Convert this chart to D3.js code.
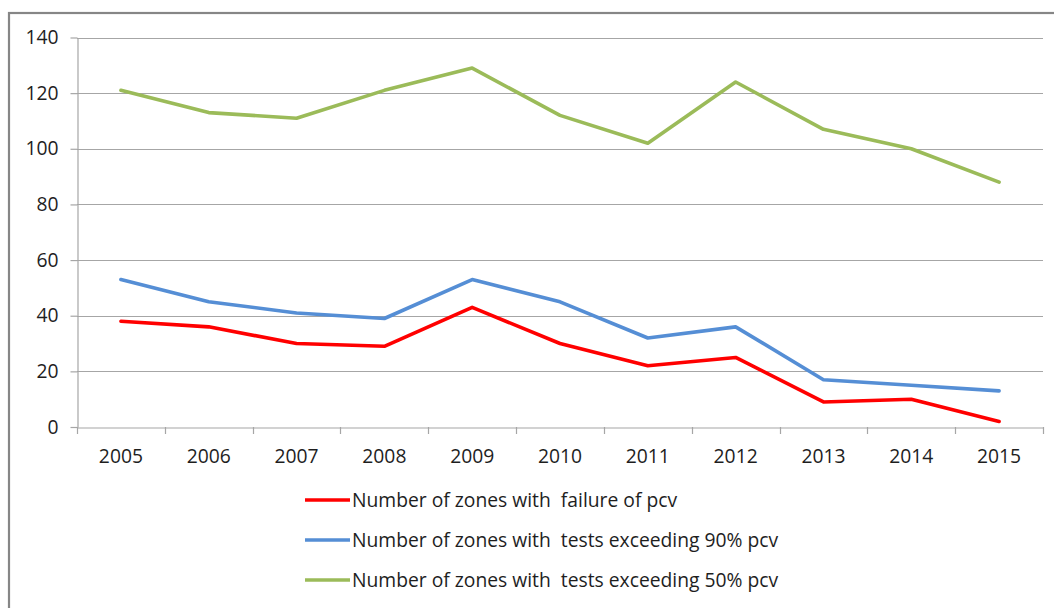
<!DOCTYPE html>
<html>
<head>
<meta charset="utf-8">
<script src="https://cdn.jsdelivr.net/npm/d3@7"></script>
<style>
  html, body { margin: 0; padding: 0; background: #ffffff; }
  svg { display: block; }
  text { font-family: "Open Sans", "Liberation Sans", sans-serif; fill: #1e1e1e; }
</style>
</head>
<body>
<svg id="chart" width="1054" height="608"></svg>
<script>
// Years on the category axis
const years = ["2005", "2006", "2007", "2008", "2009", "2010", "2011", "2012", "2013", "2014", "2015"];

// Series values, one per year
const failurePcv = [38, 36, 30, 29, 43, 30, 22, 25, 9, 10, 2];
const exceeding90 = [53, 45, 41, 39, 53, 45, 32, 36, 17, 15, 13];
const exceeding50 = [121, 113, 111, 121, 129, 112, 102, 124, 107, 100, 88];

// Series names shown in the legend
const seriesNames = [
  "Number of zones with  failure of pcv",
  "Number of zones with  tests exceeding 90% pcv",
  "Number of zones with  tests exceeding 50% pcv"
];

// Y axis tick values
const yTicks = [0, 20, 40, 60, 80, 100, 120, 140];

const series = [
  { name: seriesNames[0], values: failurePcv, color: "#ff0000" },
  { name: seriesNames[1], values: exceeding90, color: "#558ed5" },
  { name: seriesNames[2], values: exceeding50, color: "#9bbb59" }
];

const svg = d3.select("#chart");
const margin = { left: 77, right: 1043, top: 37.5, bottom: 427 };
const fontSize = 19.3;

// Outer chart frame
svg.append("rect")
  .attr("x", 9).attr("y", 13)
  .attr("width", 1100).attr("height", 700)
  .attr("fill", "none")
  .attr("stroke", "#868686")
  .attr("stroke-width", 2.2);

const x = d3.scaleBand().domain(years).range([margin.left, margin.right]).padding(0);
const y = d3.scaleLinear().domain([0, 140]).range([margin.bottom, margin.top]);

// Horizontal gridlines
svg.append("g")
  .selectAll("line")
  .data(yTicks.filter(d => d > 0))
  .join("line")
  .attr("x1", margin.left).attr("x2", margin.right)
  .attr("y1", d => Math.round(y(d)) + 0.5).attr("y2", d => Math.round(y(d)) + 0.5)
  .attr("stroke", "#a6a6a6").attr("stroke-width", 1.2);

// Y axis
const yAxis = svg.append("g")
  .attr("transform", `translate(${margin.left + 0.5},0)`)
  .call(d3.axisLeft(y).tickValues(yTicks).tickSize(7).tickPadding(12).tickSizeOuter(0));
yAxis.select(".domain").attr("stroke", "#a6a6a6").attr("stroke-width", 1.2);
yAxis.selectAll(".tick line").attr("stroke", "#a6a6a6").attr("stroke-width", 1.2);
yAxis.selectAll(".tick text").attr("font-size", fontSize).attr("fill", "#1e1e1e")
  .attr("font-family", "\"Open Sans\", sans-serif");

// X axis with ticks at band boundaries
const xAxis = svg.append("g")
  .attr("transform", `translate(0,${Math.round(margin.bottom) + 0.5})`)
  .call(d3.axisBottom(x).tickSize(0).tickPadding(22).tickSizeOuter(0));
xAxis.select(".domain").attr("stroke", "#a6a6a6").attr("stroke-width", 1.2);
xAxis.selectAll(".tick text").attr("font-size", fontSize).attr("fill", "#1e1e1e")
  .attr("font-family", "\"Open Sans\", sans-serif");

const boundaries = years.map(d => x(d)).concat([x(years[years.length - 1]) + x.bandwidth()]);
svg.append("g")
  .selectAll("line")
  .data(boundaries)
  .join("line")
  .attr("x1", d => Math.round(d) + 0.5).attr("x2", d => Math.round(d) + 0.5)
  .attr("y1", margin.bottom).attr("y2", margin.bottom + 7)
  .attr("stroke", "#a6a6a6").attr("stroke-width", 1.2);

// Series lines
const line = d3.line()
  .x((d, i) => x(years[i]) + x.bandwidth() / 2)
  .y(d => y(d));

svg.append("g")
  .selectAll("path")
  .data(series)
  .join("path")
  .attr("d", d => line(d.values))
  .attr("fill", "none")
  .attr("stroke", d => d.color)
  .attr("stroke-width", 3.6)
  .attr("stroke-linejoin", "round")
  .attr("stroke-linecap", "round");

// Legend
const legend = svg.append("g")
  .selectAll("g")
  .data(series)
  .join("g")
  .attr("transform", (d, i) => `translate(305,${500 + i * 40})`);

legend.append("line")
  .attr("x1", 0).attr("x2", 45)
  .attr("y1", 0).attr("y2", 0)
  .attr("stroke", d => d.color)
  .attr("stroke-width", 3.6);

legend.append("text")
  .attr("x", 47).attr("y", 0)
  .attr("dy", "0.35em")
  .attr("font-size", fontSize)
  .style("white-space", "pre")
  .attr("xml:space", "preserve")
  .text(d => d.name);
</script>
</body>
</html>
